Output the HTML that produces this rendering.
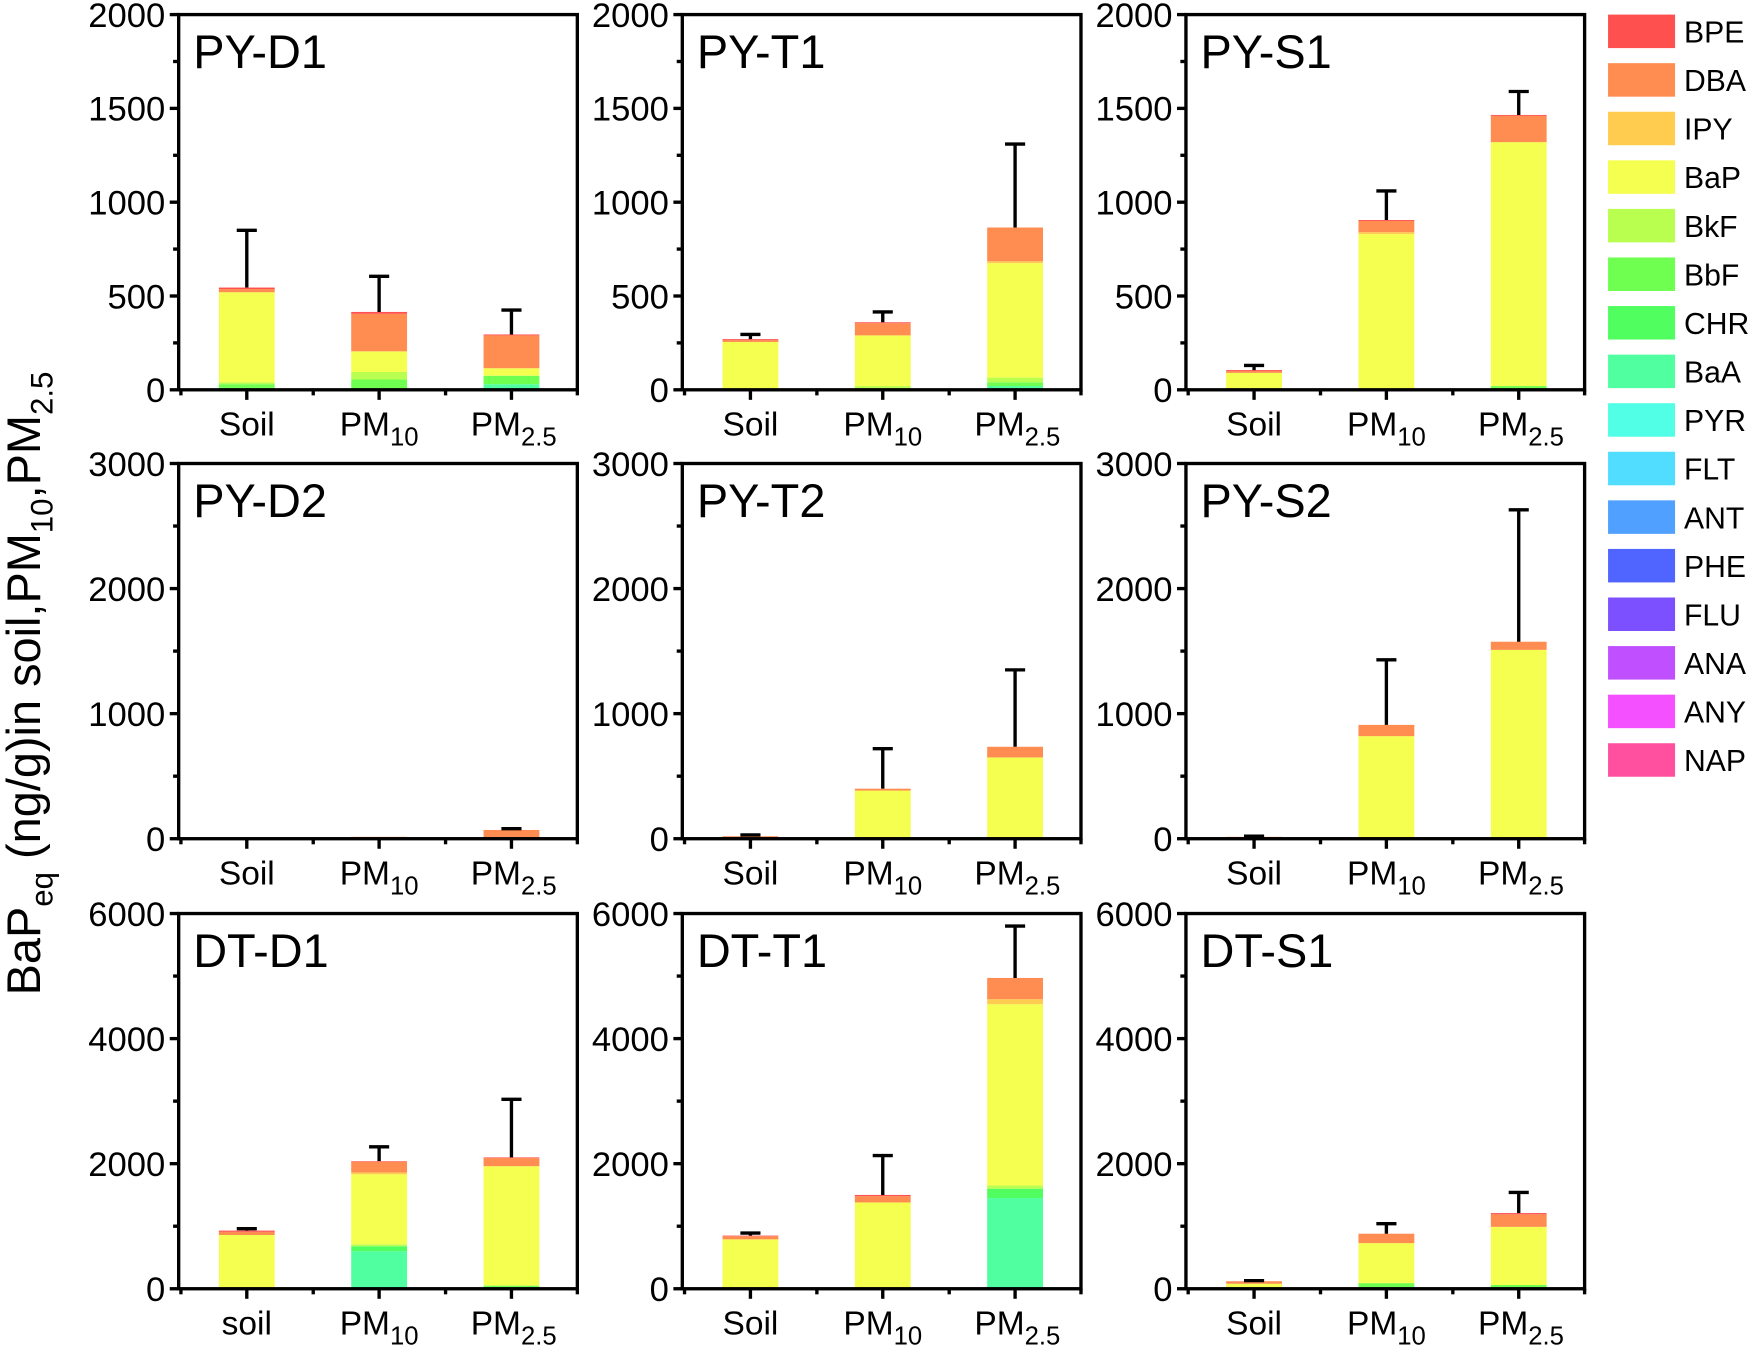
<!DOCTYPE html>
<html><head><meta charset="utf-8"><style>
html,body{margin:0;padding:0;background:#fff;}
svg{display:block;font-family:"Liberation Sans",Arial,sans-serif;}
</style></head><body>
<svg id="fig" width="1751" height="1348" viewBox="0 0 1568 1207" xmlns="http://www.w3.org/2000/svg">
<text transform="translate(36,612) rotate(-90)" text-anchor="middle" font-size="42">BaP<tspan font-size="28" dy="11">eq</tspan><tspan dy="-11"> (ng/g)in soil,PM</tspan><tspan font-size="28" dy="11">10</tspan><tspan dy="-11">,PM</tspan><tspan font-size="28" dy="11">2.5</tspan></text>
</svg>
<script>
const components = ["BaA","CHR","BbF","BkF","BaP","IPY","DBA","BPE"];
const compColors = {BPE:"#ff5050",DBA:"#ff8c50",IPY:"#ffcc50",BaP:"#f5ff50",BkF:"#b9ff50",BbF:"#6fff50",CHR:"#50ff5f",BaA:"#50ffa0"};
const legendNames = ["BPE","DBA","IPY","BaP","BkF","BbF","CHR","BaA","PYR","FLT","ANT","PHE","FLU","ANA","ANY","NAP"];
const legendColors = ["#ff5050","#ff8c50","#ffcc50","#f5ff50","#b9ff50","#6fff50","#50ff5f","#50ffa0","#50ffe6","#50ddff","#50a0ff","#5064ff","#7c50ff","#c050ff","#f550ff","#ff50a0"];
const panelTitles = ["PY-D1","PY-T1","PY-S1","PY-D2","PY-T2","PY-S2","DT-D1","DT-T1","DT-S1"];
const rowMax = [2000,3000,6000];
const rowTicks = [[0,500,1000,1500,2000],[0,1000,2000,3000],[0,2000,4000,6000]];
// values per panel: [soil, pm10, pm25], each [BaA,CHR,BbF,BkF,BaP,IPY,DBA,BPE]
const stackPYD1 = [[0,10,20,10,480,0,17,8],[0,0,55,40,110,0,200,10],[30,0,45,0,40,0,175,5]];
const stackPYT1 = [[0,0,5,0,250,0,10,5],[0,0,5,15,270,0,65,5],[20,0,20,25,610,10,180,0]];
const stackPYS1 = [[0,0,0,0,90,0,10,5],[0,0,5,0,825,10,60,5],[0,0,20,0,1300,0,140,5]];
const stackPYD2 = [[0,0,0,0,0,0,5,0],[0,0,0,0,3,0,12,0],[0,0,0,0,5,0,65,0]];
const stackPYT2 = [[0,0,0,0,5,0,15,0],[0,0,0,0,385,0,15,0],[0,0,0,0,650,0,85,0]];
const stackPYS2 = [[0,0,0,0,5,0,10,0],[0,0,0,0,820,0,90,0],[0,0,0,0,1510,0,65,0]];
const stackDTD1 = [[0,0,0,0,860,0,50,20],[600,80,0,30,1120,30,170,10],[0,0,50,0,1910,0,130,10]];
const stackDTT1 = [[0,0,0,0,790,0,50,10],[0,0,0,0,1380,0,100,20],[1450,150,0,50,2900,80,340,0]];
const stackDTS1 = [[0,0,0,0,80,0,40,0],[0,0,90,0,640,0,150,0],[0,0,60,0,930,0,200,20]];
const stacks = [stackPYD1,stackPYT1,stackPYS1,stackPYD2,stackPYT2,stackPYS2,stackDTD1,stackDTT1,stackDTS1];
const errTops = [[850,605,425],[295,415,1310],[130,1060,1590],[5,15,80],[30,720,1350],[20,1430,2630],[960,2270,3030],[890,2130,5800],[130,1040,1540]];
const categories = ["Soil","PM10","PM2.5"];

const NS="http://www.w3.org/2000/svg";
const svg=document.getElementById('fig');
function mk(tag,attrs,parent){const e=document.createElementNS(NS,tag);for(const k in attrs)e.setAttribute(k,attrs[k]);(parent||svg).appendChild(e);return e;}
const colX=[160,611,1062], colW=357, rowY=[13,415,818], rowH=336;

for(let p=0;p<9;p++){
  const r=Math.floor(p/3), c=p%3;
  const x0=colX[c], y0=rowY[r], x1=x0+colW, y1=y0+rowH;
  const max=rowMax[r];
  const yS=v=>y1-v/max*rowH;
  const xS=i=>x0+61+i*118.5;
  const g=mk('g',{});
  
  
  stacks[p].forEach((vals,i)=>{
    let acc=0;
    vals.forEach((v,k)=>{
      if(v<=0)return;
      const rc=mk('rect',{x:xS(i)-25,y:yS(acc+v),width:50,height:Math.max(0,yS(acc)-yS(acc+v)),fill:compColors[components[k]]},g);
      
      
      acc+=v;
    });
    const e=errTops[p][i];
    if(e>acc){
      const ln=mk('path',{d:`M${xS(i)},${yS(acc)}V${yS(e)}M${xS(i)-9},${yS(e)}H${xS(i)+9}`,stroke:'#000','stroke-width':3,fill:'none'},g);
      
      
    }
  });
  const fr=mk('rect',{x:x0,y:y0,width:colW,height:rowH,fill:'none',stroke:'#000','stroke-width':3},g);
  
  
  const tks=rowTicks[r];
  tks.forEach((t,j)=>{
    mk('line',{x1:x0-8,x2:x0,y1:yS(t),y2:yS(t),stroke:'#000','stroke-width':3},g);
    if(j<tks.length-1){const m=(t+tks[j+1])/2;mk('line',{x1:x0-5,x2:x0,y1:yS(m),y2:yS(m),stroke:'#000','stroke-width':3},g);}
    const tx=mk('text',{x:x0-12,y:yS(t)+11,'text-anchor':'end','font-size':31},g);
    tx.textContent=t;
    
    
  });
  for(let i=0;i<3;i++){
    mk('line',{x1:xS(i),x2:xS(i),y1:y1,y2:y1+9,stroke:'#000','stroke-width':3},g);
    mk('line',{x1:xS(i)-59,x2:xS(i)-59,y1:y1,y2:y1+5,stroke:'#000','stroke-width':3},g);
    const lbl=mk('text',{x:xS(i),y:y1+41,'text-anchor':'middle','font-size':30},g);
    
    
    if(i===0){lbl.textContent=(p===6?'soil':'Soil');}
    else{
      lbl.setAttribute('x',xS(i)+(i===1?0:2));
      lbl.innerHTML='PM<tspan font-size="23" dy="9">'+(i===1?'10':'2.5')+'</tspan>';
    }
  }
  mk('line',{x1:x1,x2:x1,y1:y1,y2:y1+5,stroke:'#000','stroke-width':3},g);
  const tt=mk('text',{x:x0+13,y:y0+48,'font-size':42},g);
  tt.textContent=panelTitles[p];
  
  
}
const lg=mk('g',{});


legendNames.forEach((n,i)=>{
  const cy=28+i*43.5;
  const sw=mk('rect',{x:1440,y:cy-15,width:60,height:30,fill:legendColors[i]},lg);
  
  
  const t=mk('text',{x:1508,y:cy+10,'font-size':27},lg);
  t.textContent=n;
  
  
});
</script>
</body></html>
